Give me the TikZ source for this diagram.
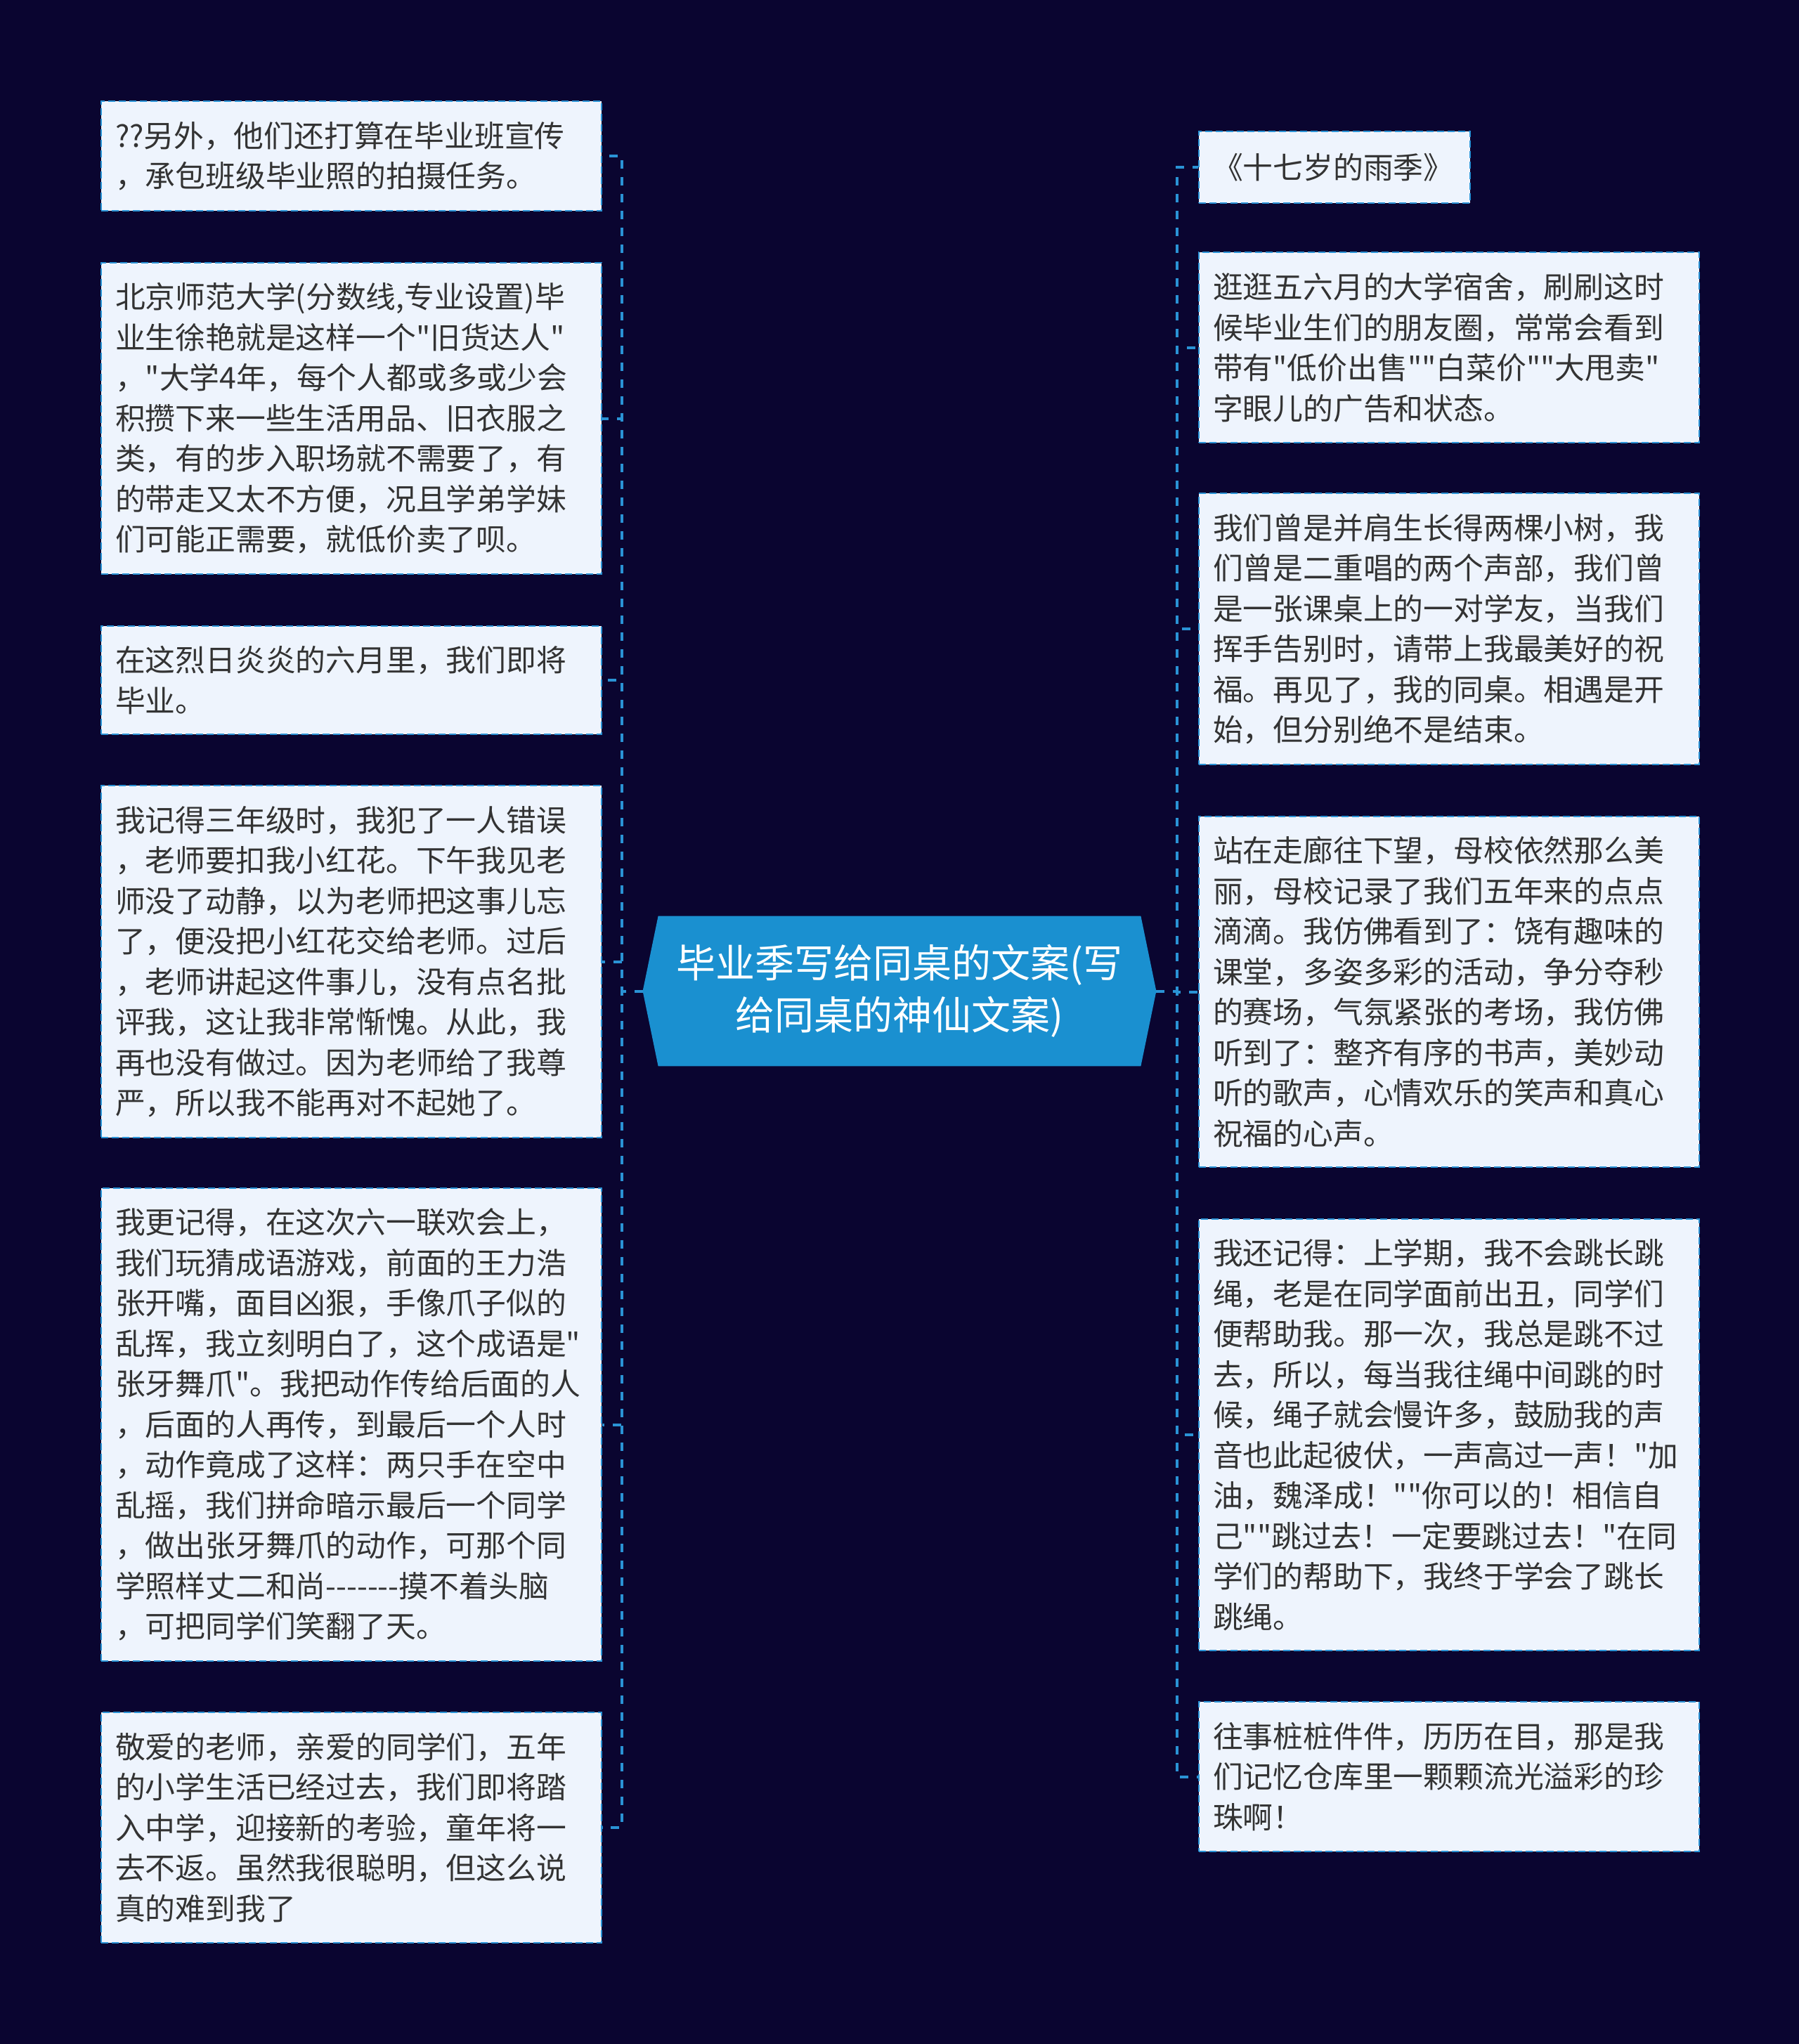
\documentclass[tikz,border=0pt]{standalone}
\usepackage{fontspec}
\setmainfont{Noto Sans CJK SC}[Ligatures=TeXOff]
\usetikzlibrary{calc,backgrounds}
\definecolor{bg}{HTML}{0A0530}
\definecolor{boxfill}{HTML}{EEF4FD}
\definecolor{linec}{HTML}{2A93D5}
\definecolor{hub}{HTML}{1A90D0}
\definecolor{ink}{HTML}{333333}
\tikzset{
  leaf/.style={draw=linec, line width=1pt, dash pattern=on 5pt off 2.5pt, fill=boxfill,
    anchor=north west, text=ink, font=\fontsize{21.4pt}{28.75pt}\selectfont,
    align=left, inner xsep=10pt, inner ysep=0pt, text width=336pt, minimum width=356pt},
  conn/.style={draw=linec, line width=2pt, dash pattern=on 6pt off 6pt},
  hubtext/.style={minimum width=365pt, minimum height=106.5pt, inner sep=0pt, text=white,
    align=center, font=\fontsize{28pt}{37pt}\selectfont},
}
\begin{document}
\begin{tikzpicture}[x=1pt,y=-1pt]
\begin{pgfonlayer}{background}
\fill[bg] (0,0) rectangle (1280,1454.5);
\end{pgfonlayer}
\useasboundingbox (0,0) rectangle (1280,1454.5);

\node[hubtext] (c) at (640,705.25) {毕业季写给同桌的文案(写\\给同桌的神仙文案)};
\begin{pgfonlayer}{background}
\fill[hub] ($(c.north west)+(11,0)$) -- ($(c.north east)+(-11,0)$) -- (c.east)
  -- ($(c.south east)+(-11,0)$) -- ($(c.south west)+(11,0)$) -- (c.west) -- cycle;
\end{pgfonlayer}

% left
\node[leaf, minimum height=78pt] (l1) at (71.5,71.5) {??另外，他们还打算在毕业班宣传\\，承包班级毕业照的拍摄任务。};
\node[leaf, minimum height=221.5pt] (l2) at (71.5,186.5) {北京师范大学(分数线,专业设置)毕\\业生徐艳就是这样一个"旧货达人"\\，"大学4年，每个人都或多或少会\\积攒下来一些生活用品、旧衣服之\\类，有的步入职场就不需要了，有\\的带走又太不方便，况且学弟学妹\\们可能正需要，就低价卖了呗。};
\node[leaf, minimum height=77pt] (l3) at (71.5,445) {在这烈日炎炎的六月里，我们即将\\毕业。};
\node[leaf, minimum height=250.5pt] (l4) at (71.5,558.5) {我记得三年级时，我犯了一人错误\\，老师要扣我小红花。下午我见老\\师没了动静，以为老师把这事儿忘\\了，便没把小红花交给老师。过后\\，老师讲起这件事儿，没有点名批\\评我，这让我非常惭愧。从此，我\\再也没有做过。因为老师给了我尊\\严，所以我不能再对不起她了。};
\node[leaf, minimum height=336.5pt] (l5) at (71.5,845) {我更记得，在这次六一联欢会上，\\我们玩猜成语游戏，前面的王力浩\\张开嘴，面目凶狠，手像爪子似的\\乱挥，我立刻明白了，这个成语是"\\张牙舞爪"。我把动作传给后面的人\\，后面的人再传，到最后一个人时\\，动作竟成了这样：两只手在空中\\乱摇，我们拼命暗示最后一个同学\\，做出张牙舞爪的动作，可那个同\\学照样丈二和尚-{}-{}-{}-{}-{}-{}-摸不着头脑\\，可把同学们笑翻了天。};
\node[leaf, minimum height=164pt] (l6) at (71.5,1218) {敬爱的老师，亲爱的同学们，五年\\的小学生活已经过去，我们即将踏\\入中学，迎接新的考验，童年将一\\去不返。虽然我很聪明，但这么说\\真的难到我了};

% right
\node[leaf, minimum height=51pt, text width=173pt, minimum width=193pt] (r1) at (852.5,93) {《十七岁的雨季》};
\node[leaf, minimum height=135.5pt] (r2) at (852.5,179) {逛逛五六月的大学宿舍，刷刷这时\\候毕业生们的朋友圈，常常会看到\\带有"低价出售""白菜价""大甩卖"\\字眼儿的广告和状态。};
\node[leaf, minimum height=193pt] (r3) at (852.5,350.5) {我们曾是并肩生长得两棵小树，我\\们曾是二重唱的两个声部，我们曾\\是一张课桌上的一对学友，当我们\\挥手告别时，请带上我最美好的祝\\福。再见了，我的同桌。相遇是开\\始，但分别绝不是结束。};
\node[leaf, minimum height=249.5pt] (r4) at (852.5,580.5) {站在走廊往下望，母校依然那么美\\丽，母校记录了我们五年来的点点\\滴滴。我仿佛看到了：饶有趣味的\\课堂，多姿多彩的活动，争分夺秒\\的赛场，气氛紧张的考场，我仿佛\\听到了：整齐有序的书声，美妙动\\听的歌声，心情欢乐的笑声和真心\\祝福的心声。};
\node[leaf, minimum height=307pt] (r5) at (852.5,867) {我还记得：上学期，我不会跳长跳\\绳，老是在同学面前出丑，同学们\\便帮助我。那一次，我总是跳不过\\去，所以，每当我往绳中间跳的时\\候，绳子就会慢许多，鼓励我的声\\音也此起彼伏，一声高过一声！"加\\油，魏泽成！""你可以的！相信自\\己""跳过去！一定要跳过去！"在同\\学们的帮助下，我终于学会了跳长\\跳绳。};
\node[leaf, minimum height=106.5pt] (r6) at (852.5,1210.5) {往事桩桩件件，历历在目，那是我\\们记忆仓库里一颗颗流光溢彩的珍\\珠啊！};

\coordinate (lt) at (442.5,705.25);
\coordinate (rt) at (837.5,705.25);
\foreach \n in {l1,l2,l3,l4,l5,l6} \draw[conn] (c.west) -- (lt) |- (\n.east);
\foreach \n in {r1,r2,r3,r4,r5,r6} \draw[conn] (c.east) -- (rt) |- (\n.west);
\end{tikzpicture}
\end{document}
